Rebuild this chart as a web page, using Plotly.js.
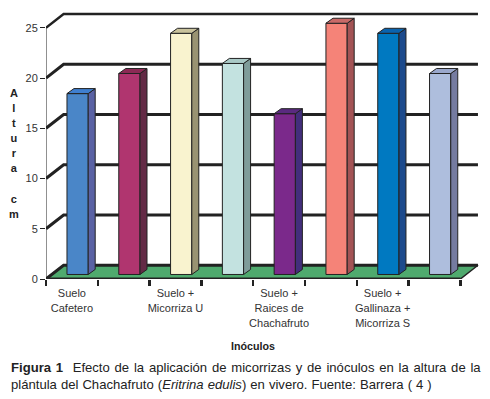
<!DOCTYPE html>
<html>
<head>
<meta charset="utf-8">
<script src="https://cdn.plot.ly/plotly-3.0.1.min.js"></script>
<style>html,body{margin:0;padding:0;background:#fff}</style>
</head>
<body>
<div id="chart" style="width:490px;height:399px"></div>
<script>
var values = [18, 20, 24, 21, 16, 25, 24, 20];
var yTicks = [0, 5, 10, 15, 20, 25];
var xLabels = ['Suelo<br>Cafetero', '', 'Suelo +<br>Micorriza U', '', 'Suelo +<br>Raices de<br>Chachafruto', '', 'Suelo +<br>Gallinaza +<br>Micorriza S', ''];
var frontColors = ['#4a86c8', '#b0356f', '#f9f3cf', '#c3e2e0', '#7b298b', '#f58378', '#0079c1', '#aebedd'];
var sideColors = ['#5a62a4', '#632a45', '#999372', '#7f9c9a', '#432e7c', '#a35355', '#1c4a8c', '#757ba0'];
var topColors = ['#3f7fd0', '#8c2a55', '#c9c29c', '#a9c9c6', '#5a2a80', '#c96a68', '#0a63ae', '#9aa8cc'];
var INK = '#222222', FLOOR = '#4faa6e', FONT = 'Liberation Sans, Arial, sans-serif';

var xRange = [0, 8.36], yRange = [0, 26.77];
var wallX = 0.34, wallY = 1.37;
var barW = 0.41, barShift = 0.11, barBase = 0.45, sideX = 0.135, sideY = 0.5;
var n = values.length;
var traces = [];

traces.push({type:'scatter', mode:'lines', x:[0,n,n+wallX,wallX,0], y:[0,0,wallY,wallY,0], fill:'toself',
  fillcolor:FLOOR, line:{color:INK,width:1.5}, xaxis:'x', yaxis:'y', cliponaxis:false, hoverinfo:'skip'});
yTicks.forEach(function(v){
  traces.push({type:'scatter', mode:'lines', x:[0,wallX,n+wallX], y:[v,v+wallY,v+wallY],
    line:{color:INK,width:v===25?2.4:3}, xaxis:'x', yaxis:'y', cliponaxis:false, hoverinfo:'skip'});
});
traces.push({type:'scatter', mode:'lines', x:[0,0], y:[0,25], line:{color:INK,width:1}, xaxis:'x', yaxis:'y', cliponaxis:false, hoverinfo:'skip'});
traces.push({type:'scatter', mode:'lines', x:[0,n], y:[0,0], line:{color:INK,width:3.2}, xaxis:'x', yaxis:'y', cliponaxis:false, hoverinfo:'skip'});

var centers = values.map(function(v,i){return i+0.5+barShift;});
traces.push({type:'bar', x:centers, y:values, base:values.map(function(){return barBase;}), width:barW,
  marker:{color:frontColors, line:{color:INK,width:1}}, xaxis:'x2', yaxis:'y2', hoverinfo:'y'});
values.forEach(function(v,i){
  var l = centers[i]-barW/2, r = centers[i]+barW/2, t = v+barBase;
  traces.push({type:'scatter', mode:'lines', x:[r,r+sideX,r+sideX,r,r], y:[barBase,barBase+sideY,t+sideY,t,barBase], fill:'toself',
    fillcolor:sideColors[i], line:{color:INK,width:1}, xaxis:'x2', yaxis:'y2', hoverinfo:'skip'});
  traces.push({type:'scatter', mode:'lines', x:[l,r,r+sideX,l+sideX,l], y:[t,t,t+sideY,t+sideY,t], fill:'toself',
    fillcolor:topColors[i], line:{color:INK,width:1}, xaxis:'x2', yaxis:'y2', hoverinfo:'skip'});
});

var layout = {
  width:490, height:399, showlegend:false, paper_bgcolor:'#fff', plot_bgcolor:'#fff',
  margin:{l:45.5, r:11, t:10, b:120}, font:{family:FONT, color:'#333'}, bargap:0,
  xaxis:{range:xRange, showgrid:false, zeroline:false, showline:false, ticks:'', tickmode:'array',
    tickvals:xLabels.map(function(s,i){return i+0.5;}),
    ticktext:xLabels.map(function(s){return s?'<span style="font-size:11px">'+s.split('<br>').join('</span><br><span style="font-size:11px">')+'</span>':'';}),
    tickfont:{size:11.6,color:'#333',family:FONT}, tickangle:0, ticklabelstandoff:5},
  yaxis:{range:yRange, showgrid:false, zeroline:false, showline:false, ticks:'outside', ticklen:5, tickwidth:1, tickcolor:INK,
    tickmode:'array', tickvals:yTicks, ticktext:yTicks.map(String), tickfont:{size:11,color:'#333',family:FONT}},
  xaxis2:{range:xRange, overlaying:'x', anchor:'y2', showgrid:false, zeroline:false, showline:false, ticks:'outside', ticklen:6, tickwidth:2.5, tickcolor:INK,
    tickmode:'array', tickvals:[0,1,2,3,4,5,6,7,8], showticklabels:false},
  yaxis2:{range:yRange, overlaying:'y', anchor:'x2', showgrid:false, zeroline:false, showline:false, showticklabels:false, ticks:''},
  annotations:[
    {xref:'paper',yref:'paper',x:0,y:0,xanchor:'center',yanchor:'middle',xshift:13-45.5,yshift:279-153,showarrow:false,align:'center',
     font:{size:11.6,color:'#222',family:FONT},text:['A','l','t','u','r','a','&#160;','c','m'].map(function(c){return '<span style="font-size:11px"><b>'+c+'</b></span>';}).join('<br>')},
    {xref:'paper',yref:'paper',x:0,y:0,xanchor:'center',yanchor:'middle',xshift:252-45.5,yshift:279-346,showarrow:false,
     font:{size:10.7,color:'#222',family:FONT},text:'<b>Inóculos</b>'},
    {xref:'paper',yref:'paper',x:0,y:0,xanchor:'left',yanchor:'middle',xshift:10-45.5-2,yshift:279-367,showarrow:false,
     font:{size:13.1,color:'#222',family:FONT},text:'<span style="word-spacing:1.15px"><b>Figura 1</b>&#160;&#160;Efecto de la aplicación de micorrizas y de inóculos en la altura de la</span>'},
    {xref:'paper',yref:'paper',x:0,y:0,xanchor:'left',yanchor:'middle',xshift:10-45.5-2,yshift:279-384,showarrow:false,
     font:{size:13.1,color:'#222',family:FONT},text:'<span style="word-spacing:0.4px">plántula del Chachafruto (<i>Eritrina edulis</i>) en vivero. Fuente: Barrera ( 4 )</span>'}
  ]
};
Plotly.newPlot('chart', traces, layout, {displayModeBar:false, staticPlot:true});
</script>
</body>
</html>
